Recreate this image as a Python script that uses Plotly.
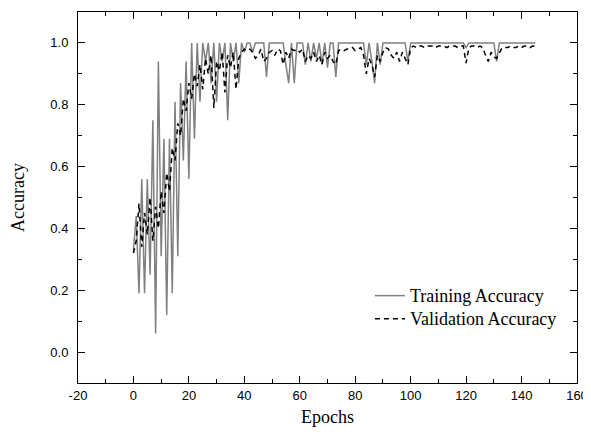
import plotly.graph_objects as go

# Training accuracy per epoch
train_acc = [
    0.33, 0.44, 0.19, 0.56, 0.19, 0.56, 0.25, 0.75, 0.06, 0.94,   # 0-9
    0.31, 0.69, 0.12, 0.69, 0.19, 0.81, 0.31, 0.87, 0.62, 0.94,   # 10-19
    0.56, 1.00, 0.69, 1.00, 0.81, 1.00, 0.94, 1.00, 0.87, 1.00,   # 20-29
    0.81, 1.00, 0.94, 1.00, 0.75, 1.00, 0.94, 1.00, 0.87, 1.00,   # 30-39
    0.97, 1.00, 1.00, 0.97, 1.00, 1.00, 1.00, 1.00, 0.89, 1.00,   # 40-49
    1.00, 1.00, 1.00, 1.00, 1.00, 0.93, 0.87, 1.00, 0.87, 1.00,   # 50-59
    1.00, 1.00, 0.93, 1.00, 0.94, 1.00, 0.95, 1.00, 0.93, 1.00,   # 60-69
    0.92, 1.00, 1.00, 0.89, 1.00, 1.00, 1.00, 1.00, 1.00, 1.00,   # 70-79
    1.00, 1.00, 1.00, 1.00, 0.93, 1.00, 0.94, 0.87, 1.00, 0.93,   # 80-89
    1.00, 1.00, 1.00, 1.00, 1.00, 1.00, 1.00, 1.00, 1.00, 0.94,   # 90-99
    1.00, 1.00, 1.00, 1.00, 1.00, 1.00, 1.00, 1.00, 1.00, 1.00,   # 100-109
    1.00, 1.00, 1.00, 1.00, 1.00, 1.00, 1.00, 1.00, 1.00, 1.00,   # 110-119
    0.985, 1.00, 1.00, 1.00, 1.00, 1.00, 1.00, 1.00, 1.00, 1.00,  # 120-129
    1.00, 0.94, 1.00, 1.00, 1.00, 1.00, 1.00, 1.00, 1.00, 1.00,   # 130-139
    1.00, 1.00, 1.00, 1.00, 1.00, 1.00,                           # 140-145
]

# Validation accuracy per epoch
val_acc = [
    0.32, 0.36, 0.48, 0.34, 0.45, 0.38, 0.50, 0.36, 0.47, 0.40,   # 0-9
    0.52, 0.45, 0.58, 0.52, 0.66, 0.62, 0.74, 0.70, 0.82, 0.78,   # 10-19
    0.87, 0.82, 0.90, 0.86, 0.93, 0.85, 0.95, 0.90, 0.96, 0.79,   # 20-29
    0.94, 0.91, 0.97, 0.84, 0.96, 0.92, 0.97, 0.85, 0.95, 0.97,   # 30-39
    0.98, 0.975, 0.98, 0.97, 0.95, 0.96, 0.98, 0.94, 0.95, 0.97,  # 40-49
    0.975, 0.96, 0.98, 0.975, 0.93, 0.97, 0.95, 0.98, 0.975, 0.98,  # 50-59
    0.97, 0.98, 0.94, 0.96, 0.95, 0.97, 0.94, 0.96, 0.93, 0.97,   # 60-69
    0.95, 0.96, 0.94, 0.93, 0.975, 0.98, 0.975, 0.98, 0.98, 0.985,  # 70-79
    0.975, 0.98, 0.985, 0.96, 0.90, 0.95, 0.93, 0.89, 0.96, 0.94,   # 80-89
    0.97, 0.985, 0.98, 0.96, 0.95, 0.97, 0.94, 0.97, 0.95, 0.93,    # 90-99
    0.985, 0.99, 0.985, 0.99, 0.99, 0.985, 0.99, 0.99, 0.99, 0.985, # 100-109
    0.99, 0.99, 0.99, 0.985, 0.99, 0.99, 0.99, 0.985, 0.99, 0.99,   # 110-119
    0.935, 0.985, 0.99, 0.99, 0.985, 0.99, 0.985, 0.96, 0.94, 0.97, # 120-129
    0.955, 0.95, 0.97, 0.985, 0.985, 0.985, 0.99, 0.985, 0.985, 0.99,  # 130-139
    0.985, 0.99, 0.99, 0.985, 0.99, 0.99,                            # 140-145
]

epochs = list(range(len(train_acc)))

x_ticks = [-20, 0, 20, 40, 60, 80, 100, 120, 140, 160]
x_tick_labels = ["-20", "0", "20", "40", "60", "80", "100", "120", "140", "160"]
y_ticks = [0.0, 0.2, 0.4, 0.6, 0.8, 1.0]
y_tick_labels = ["0.0", "0.2", "0.4", "0.6", "0.8", "1.0"]

serif = "Liberation Serif, Times New Roman, serif"
sans = "Liberation Sans, Arial, sans-serif"


def legend_label(text):
    return '<span style="font-size:18px">' + text + '</span>'


fig = go.Figure()
fig.add_trace(go.Scatter(
    x=epochs, y=train_acc, mode="lines", name=legend_label("Training Accuracy"),
    line=dict(color="#808080", width=1.5),
))
fig.add_trace(go.Scatter(
    x=epochs[:len(val_acc)], y=val_acc, mode="lines", name=legend_label("Validation Accuracy"),
    line=dict(color="black", width=1.5, dash="5px,4px"),
))

axis_common = dict(
    showline=True, linecolor="black", linewidth=1, mirror="allticks",
    ticks="inside", ticklen=7, tickcolor="black", tickwidth=1,
    showgrid=False, zeroline=False, automargin=False,
    ticklabeloverflow="allow",
    tickfont=dict(family=sans, size=13, color="black"),
)

fig.update_xaxes(
    range=[-20, 160], tickvals=x_ticks, ticktext=x_tick_labels,
    minor=dict(dtick=10, ticks="inside", ticklen=4, tickcolor="black", showgrid=False),
    title=dict(text="Epochs", font=dict(family=serif, size=18, color="black"), standoff=8),
    **axis_common,
)
fig.update_yaxes(
    range=[-0.1, 1.1], tickvals=y_ticks, ticktext=y_tick_labels,
    minor=dict(dtick=0.1, tick0=0, ticks="inside", ticklen=4, tickcolor="black", showgrid=False),
    title=dict(text="Accuracy", font=dict(family=serif, size=18, color="black"), standoff=22),
    ticklabelstandoff=6,
    **axis_common,
)

# The page body adds an 8px offset; the figure is sized so the plot lands
# where the reference places it and the page does not overflow vertically.
fig.update_layout(
    width=583, height=419,
    margin=dict(l=70, r=14, t=4, b=44),
    plot_bgcolor="white", paper_bgcolor="white",
    legend=dict(
        x=0.585, y=0.28, xanchor="left", yanchor="top",
        font=dict(family=serif, size=15.4, color="black"),
        bgcolor="rgba(0,0,0,0)", tracegroupgap=0,
    ),
)

fig.write_html("out.html")
